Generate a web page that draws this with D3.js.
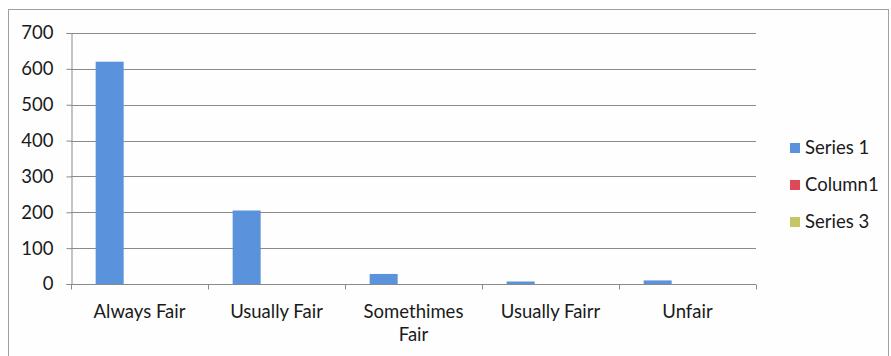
<!DOCTYPE html>
<html><head><meta charset="utf-8">
<script src="https://d3js.org/d3.v7.min.js"></script>
<style>body{margin:0;background:#fff}svg{display:block}text{font-family:Lato,"Open Sans",sans-serif;fill:#1a1a1a}</style>
</head><body><svg id="c" width="891" height="356"></svg>
<script>
const categories = ["Always Fair","Usually Fair","Somethimes Fair","Usually Fairr","Unfair"];
const seriesNames = ["Series 1","Column1","Series 3"];
const series1 = [620,205,28,7,10];
const column1 = [0,0,0,0,0];
const series3 = [0,0,0,0,0];
const yTicks = [0,100,200,300,400,500,600,700];
const colors = ["#5a93dc","#e0485a","#c8c664"];

const FS = 18.5;
const svg = d3.select("#c");
svg.append("rect").attr("x",8.5).attr("y",9.5).attr("width",880).attr("height",360)
  .attr("fill","#fefefe").attr("stroke","#a0a0a0");
const L=71,R=756,T=33,B=284;
const x = d3.scaleBand().domain(categories).range([L,R]);
const bw = x.bandwidth();
const xs = d3.scaleBand().domain(seriesNames).range([bw*0.18, bw*0.18+84]);
const y = d3.scaleLinear().domain([0,700]).range([B,T]);

// gridlines
svg.append("g").selectAll("line").data(yTicks.filter(d=>d>0)).join("line")
  .attr("x1",L).attr("x2",R).attr("y1",d=>Math.round(y(d))+0.5).attr("y2",d=>Math.round(y(d))+0.5)
  .attr("stroke","#8a8a8a").attr("stroke-width",1);

// bars
const data = [series1,column1,series3];
data.forEach((vals,si)=>{
  svg.append("g").selectAll("rect").data(vals.map((v,i)=>({v,c:categories[i]}))).join("rect")
    .attr("x",d=>x(d.c)+xs(seriesNames[si])).attr("width",xs.bandwidth())
    .attr("y",d=>y(d.v)).attr("height",d=>B-y(d.v)).attr("fill",colors[si]);
});

// y axis
const ya = svg.append("g").attr("transform",`translate(${L+0.5},0)`)
  .call(d3.axisLeft(y).tickValues(yTicks).tickSize(5).tickPadding(13));
ya.select(".domain").attr("stroke","#8a8a8a");
ya.selectAll("line").attr("stroke","#8a8a8a");
ya.selectAll("text").attr("font-size",FS).style("font-family","Lato,sans-serif").attr("fill","#1a1a1a");

// x axis
const xa = svg.append("g").attr("transform",`translate(0,${B+0.5})`);
xa.append("line").attr("x1",L).attr("x2",R).attr("stroke","#8a8a8a");
const bounds = categories.map(c=>x(c)).concat([R]);
xa.selectAll("line.t").data(bounds).join("line").attr("class","t")
  .attr("x1",d=>Math.round(d)+0.5).attr("x2",d=>Math.round(d)+0.5).attr("y1",0).attr("y2",5).attr("stroke","#8a8a8a");
const labels = {"Somethimes Fair":["Somethimes","Fair"]};
categories.forEach(c=>{
  const lines = labels[c]||[c];
  const t = xa.append("text").attr("text-anchor","middle").attr("font-size",FS)
    .attr("x",x(c)+bw/2).attr("y",33);
  lines.forEach((ln,i)=>t.append("tspan").attr("x",x(c)+bw/2).attr("dy",i?23:0).text(ln));
});

// legend
const lg = svg.append("g");
seriesNames.forEach((n,i)=>{
  const cy = 148 + i*37;
  lg.append("rect").attr("x",790).attr("y",cy-5).attr("width",10).attr("height",10).attr("fill",colors[i]);
  lg.append("text").attr("x",805).attr("y",cy).attr("dy","0.35em").attr("font-size",FS).text(n);
});
</script></body></html>
